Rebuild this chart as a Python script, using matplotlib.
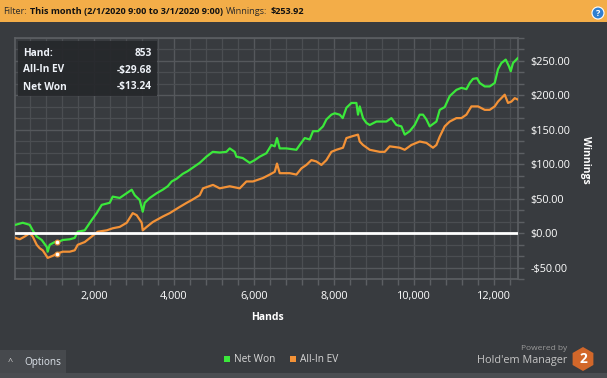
import numpy as np
import matplotlib
matplotlib.use("Agg")
import matplotlib.pyplot as plt
from matplotlib.patches import Rectangle, RegularPolygon
from matplotlib.ticker import MultipleLocator, FuncFormatter

# hands / winnings
net_hands = [35, 218, 393, 468, 568, 693, 818, 843, 893, 1018, 1068, 1218, 1393, 1518, 1593,
             1768, 1943, 2068, 2193, 2393, 2468, 2643, 2818, 2943, 3018, 3143, 3218, 3268,
             3393, 3568, 3718, 3843, 3943, 4068, 4218, 4343, 4493, 4643, 4810, 4968, 5143,
             5310, 5393, 5518, 5560, 5718, 5893, 6018, 6143, 6310, 6435, 6518, 6575, 6643,
             6810, 7060, 7143, 7268, 7393, 7475, 7600, 7725, 7810, 7935, 8018, 8143, 8218,
             8310, 8435, 8560, 8600, 8643, 8725, 8810, 8893, 9060, 9310, 9435, 9560, 9685,
             9768, 9893, 10018, 10143, 10225, 10310, 10393, 10560, 10643, 10768, 10893,
             11060, 11185, 11310, 11393, 11475, 11575, 11643, 11768, 11893, 12018, 12100,
             12185, 12293, 12375, 12418, 12475, 12593]
net_won = [12, 15, 12, 4, -5, -10, -20, -27, -17, -13, -14, -10, -9, -7, 2,
           4, 19, 29, 41, 44, 53, 51, 58, 63, 55, 48, 31, 44,
           51, 58, 63, 68, 75, 79, 86, 90, 96, 102, 111, 118, 117,
           118, 123, 118, 111, 109, 102, 106, 111, 116, 128, 126, 138, 123,
           123, 121, 128, 138, 136, 148, 148, 155, 165, 172, 174, 172, 167,
           182, 189, 189, 172, 184, 167, 160, 157, 162, 162, 167, 157, 155,
           143, 148, 157, 172, 172, 165, 155, 162, 179, 183, 199,
           208, 211, 209, 218, 224, 225, 218, 213, 213, 218, 238,
           247, 252, 242, 235, 247, 254]

ev_hands = [35, 143, 268, 393, 468, 568, 643, 718, 843, 968, 1068, 1218, 1393, 1518, 1593,
            1768, 1943, 2093, 2318, 2468, 2643, 2818, 2968, 3068, 3193, 3218, 3318, 3468,
            3718, 3893, 4143, 4318, 4443, 4643, 4725, 4975, 5143, 5393, 5643, 5810, 5975,
            6225, 6393, 6518, 6575, 6643, 6893, 7060, 7185, 7310, 7435, 7560, 7685, 7810,
            7935, 8060, 8225, 8310, 8475, 8600, 8643, 8725, 8893, 9143, 9268, 9393, 9643,
            9768, 9935, 10143, 10310, 10475, 10560, 10643, 10768, 10893, 11060, 11185,
            11310, 11435, 11600, 11768, 11893, 12018, 12100, 12268, 12350, 12435, 12518, 12593]
all_in_ev = [-7, -9, -5, 0, -5, -17, -22, -25, -36, -33, -30, -27, -27, -25, -17,
             -13, -5, 2, 4, 7, 9, 15, 29, 26, 15, 4, 9, 16,
             24, 29, 38, 44, 48, 55, 65, 70, 65, 68, 65, 75, 75,
             80, 85, 89, 101, 87, 87, 85, 94, 99, 106, 104, 99, 106,
             118, 121, 124, 138, 141, 143, 133, 128, 121, 118, 118, 126, 124,
             121, 128, 133, 131, 124, 128, 140, 155, 162, 167, 167,
             172, 184, 184, 179, 179, 184, 191, 201, 189, 191, 196, 194]

tip_hand = 853
tip_net = -13.24
tip_ev = -29.68
tip_x = 1068  # where the hover dots sit on the drawing

BG = "#383b3f"
GREEN = "#3be83b"
ORANGE = "#f39237"
W, H = 607, 378
FONT = "Open Sans"

plt.rcParams['font.family'] = [FONT, 'DejaVu Sans']
fig = plt.figure(figsize=(W / 100, H / 100), dpi=100, facecolor=BG)
rend = fig.canvas.get_renderer()


def fx(x):
    return x / W


def fy(y):
    return 1 - y / H


def rect(x0, y0, x1, y1, color, alpha=1.0, z=0):
    fig.add_artist(Rectangle((fx(x0), fy(y1)), fx(x1) - fx(x0), fy(y0) - fy(y1),
                             transform=fig.transFigure, facecolor=color, edgecolor="none",
                             alpha=alpha, zorder=z))


# top filter bar, pieces laid one after another
rect(0, 0, W, 22, "#f3ad48")
x = 3
for txt, bold in [("Filter:", False), ("This month (2/1/2020 9:00 to 3/1/2020 9:00)", True),
                  ("Winnings:", False), ("$253.92", True)]:
    t = fig.text(fx(x), fy(11), txt, color="#111111" if bold else "#2b2b2b", fontsize=6.6,
                 fontweight="bold" if bold else "normal", va="center")
    x += t.get_window_extent(rend).width + 3
fig.add_artist(plt.Circle((598, H - 13), 6, transform=None, facecolor="#2f7fd0", edgecolor="#ffffff",
                          lw=0.8))
fig.text(fx(598), fy(13), "?", color="white", fontsize=6.5, fontweight="bold", ha="center", va="center")

# bottom strip and options button
rect(0, 373, W, H, "#4a4d51")
rect(0, 350, 66, 373, "#46494d")
fig.text(fx(10), fy(362), "^", color="#d0d0d0", fontsize=6.5, ha="center", va="center")
fig.text(fx(24), fy(362), "Options", color="#dde3ea", fontsize=7.2, va="center")

ax = fig.add_axes([fx(15), fy(279), fx(518) - fx(15), fy(38) - fy(279)])
ax.set_facecolor(BG)
ax.plot(net_hands, net_won, color=GREEN, lw=1.6, zorder=3)
ax.plot(ev_hands, all_in_ev, color=ORANGE, lw=1.6, zorder=3)
ax.axhline(0, color="white", lw=2, zorder=4)
ax.scatter([tip_x, tip_x], [tip_net, tip_ev], s=12, facecolor="white", edgecolor=ORANGE,
           linewidth=0.8, zorder=5)

ax.set_xlim(25, 12600)
ax.set_ylim(-200 / 3, 850 / 3)
ax.xaxis.set_major_locator(MultipleLocator(2000))
ax.xaxis.set_minor_locator(MultipleLocator(400))
ax.yaxis.set_major_locator(MultipleLocator(50))
ax.yaxis.set_minor_locator(MultipleLocator(50 / 3))
ax.xaxis.set_major_formatter(FuncFormatter(lambda v, p: f"{v:,.0f}"))
ax.yaxis.set_major_formatter(FuncFormatter(lambda v, p: f"-${-v:,.2f}" if v < 0 else f"${v:,.2f}"))
ax.yaxis.tick_right()
ax.grid(which="minor", color="#4b4e52", lw=0.9)
ax.grid(which="major", color="#55585c", lw=1.0)
ax.set_axisbelow(True)
for s in ax.spines.values():
    s.set_color("#5c5f63")
    s.set_linewidth(1.2)
ax.tick_params(which="both", colors="#5c5f63", length=4, width=1)
ax.tick_params(axis="x", which="major", labelcolor="white", labelsize=7.8, pad=5)
ax.tick_params(axis="y", which="major", labelcolor="white", labelsize=7.8, pad=5)

fig.text(fx(267), fy(318), "Hands", color="white", fontsize=7.5, fontweight="bold",
         ha="center", va="center")
fig.text(fx(585), fy(160), "Winnings", color="white", fontsize=7.5, fontweight="bold",
         ha="center", va="center", rotation=270)

# hover box
rect(18, 41, 157, 96, "#25272a", alpha=0.9, z=5)
rows = [("Hand:", f"{tip_hand}"), ("All-In EV", f"-${-tip_ev:.2f}"), ("Net Won", f"-${-tip_net:.2f}")]
for i, (k, v) in enumerate(rows):
    yy = 53 + i * 17
    fig.text(fx(23), fy(yy), k, color="#eef2f8", fontsize=7.3, fontweight="bold", va="center", zorder=6)
    fig.text(fx(152), fy(yy), v, color="#eef2f8", fontsize=7.3, fontweight="bold", va="center",
             ha="right", zorder=6)

# legend
rect(224, 356, 230, 362, GREEN)
fig.text(fx(234), fy(359), "Net Won", color="#d8d8d8", fontsize=7.3, va="center")
rect(290, 356, 296, 362, ORANGE)
fig.text(fx(300), fy(359), "All-In EV", color="#d8d8d8", fontsize=7.3, va="center")

# branding
fig.text(fx(567), fy(348), "Powered by", color="#9a9a9a", fontsize=6, ha="right", va="center")
fig.text(fx(567), fy(360), "Hold'em Manager", color="#c4c4c4", fontsize=7.8, ha="right", va="center")
fig.add_artist(RegularPolygon((583, H - 359), 6, radius=12, orientation=0, transform=None,
                              facecolor="#d2672a", edgecolor="none"))
fig.text(fx(583), fy(359), "2", color="white", fontsize=10, fontweight="bold", ha="center", va="center")

fig.savefig("out.png", dpi=100, facecolor=BG)
